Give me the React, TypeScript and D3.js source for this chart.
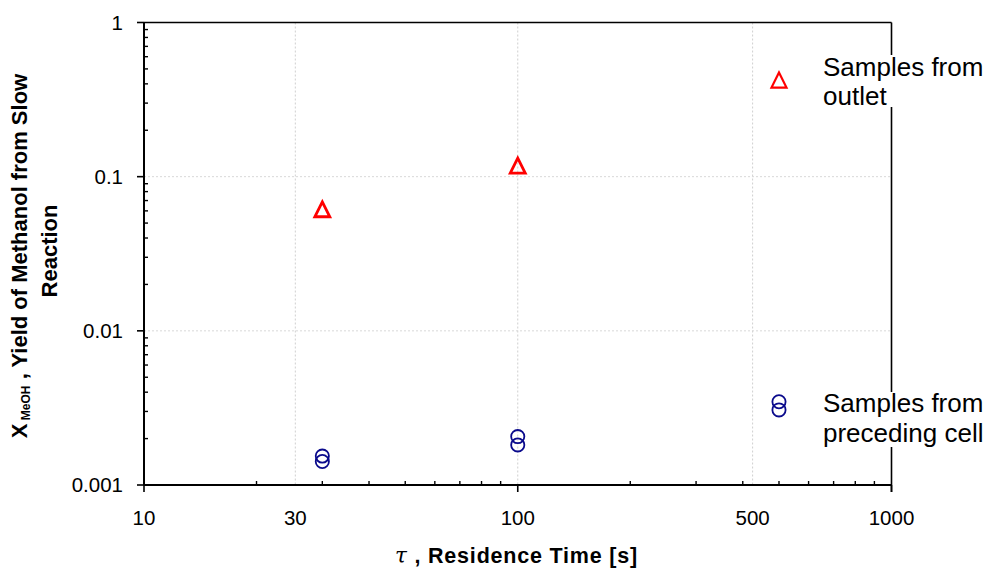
import React from "react";
import * as d3 from "d3";

// ---- data ----
const outletTau = [30, 100];
const outletYield = [0.061, 0.117];

const precedingTau = [30, 30, 100, 100, 500, 500];
const precedingYield = [0.00154, 0.00142, 0.00206, 0.00182, 0.00347, 0.00307];

// legend marker for the outlet series (drawn inside the plot in the original)
const legendTau = [500];
const legendYield = [0.42];

const xTickValues = [10, 100, 1000];
const xLabelValues = [10, 25.4, 100, 425, 1000];
const xLabelTexts = ["10", "30", "100", "500", "1000"];
const xGridValues = [25.4, 100, 425];

const yTickValues = [1, 0.1, 0.01, 0.001];
const yTickLabels = ["1", "0.1", "0.01", "0.001"];
const yGridValues = [0.1, 0.01];

const legendTexts1 = ["Samples from", "outlet"];
const legendTexts2 = ["Samples from", "preceding cell"];

const W = 992;
const H = 572;
const L = 144, R = 891.5, T = 22.5, B = 485;

const FONT = "'Liberation Sans', Arial, Helvetica, sans-serif";

export default function App() {
  const x = d3.scaleLog().domain([10, 1000]).range([L, R]);
  const y = d3.scaleLog().domain([0.001, 1]).range([B, T]);

  const xMinor: number[] = [];
  [10, 100].forEach((d) => {
    for (let k = 2; k <= 9; k++) xMinor.push(d * k);
  });
  const yMinor: number[] = [];
  [0.001, 0.01, 0.1].forEach((d) => {
    for (let k = 2; k <= 9; k++) yMinor.push(d * k);
  });

  const tri = "M0,-8 L7.5,7 L-7.5,7 Z";

  return (
    <svg
      width={W}
      height={H}
      style={{ position: "absolute", left: 0, top: 0, background: "#fff" }}
      fontFamily={FONT}
    >
      <rect x={0} y={0} width={W} height={H} fill="#fff" />
      {/* gridlines */}
      {xGridValues.map((v, i) => (
        <line
          key={"gx" + i}
          x1={x(v)}
          x2={x(v)}
          y1={T}
          y2={B}
          stroke="#cfcfcf"
          strokeWidth={1}
          strokeDasharray="2,2"
        />
      ))}
      {yGridValues.map((v, i) => (
        <line
          key={"gy" + i}
          x1={L}
          x2={R}
          y1={y(v)}
          y2={y(v)}
          stroke="#d8d8d8"
          strokeWidth={1}
          strokeDasharray="2,2"
        />
      ))}

      {/* frame top/right */}
      <line x1={L} x2={R} y1={T} y2={T} stroke="#000" strokeWidth={1.6} />
      <line x1={R} x2={R} y1={T} y2={B + 7} stroke="#000" strokeWidth={1.6} />

      {/* axes */}
      <line x1={L} x2={L} y1={T} y2={B} stroke="#000" strokeWidth={2} />
      <line x1={L} x2={R} y1={B} y2={B} stroke="#000" strokeWidth={2} />

      {/* y ticks */}
      {yTickValues.map((v, i) => (
        <line key={"yt" + i} x1={L - 7} x2={L} y1={y(v)} y2={y(v)} stroke="#000" strokeWidth={1.6} />
      ))}
      {yMinor.map((v, i) => (
        <line key={"ym" + i} x1={L} x2={L + 4} y1={y(v)} y2={y(v)} stroke="#000" strokeWidth={1.4} />
      ))}
      {/* x ticks */}
      {xTickValues.map((v, i) => (
        <line key={"xt" + i} x1={x(v)} x2={x(v)} y1={B} y2={B + 7} stroke="#000" strokeWidth={1.6} />
      ))}
      {xMinor.map((v, i) => (
        <line key={"xm" + i} x1={x(v)} x2={x(v)} y1={B - 4} y2={B} stroke="#000" strokeWidth={1.4} />
      ))}

      {/* tick labels */}
      {yTickValues.map((v, i) => (
        <text key={"yl" + i} x={123} y={y(v) + 7} textAnchor="end" fontSize={20.5} fill="#000">
          {yTickLabels[i]}
        </text>
      ))}
      {xLabelValues.map((v, i) => (
        <text key={"xl" + i} x={x(v)} y={525} textAnchor="middle" fontSize={20.5} fill="#000">
          {xLabelTexts[i]}
        </text>
      ))}

      {/* data: preceding cell circles */}
      {precedingTau.map((t, i) => (
        <circle
          key={"c" + i}
          cx={x(t)}
          cy={y(precedingYield[i])}
          r={6.6}
          fill="none"
          stroke="#0a0a8c"
          strokeWidth={1.8}
        />
      ))}
      {/* data: outlet triangles */}
      {outletTau.map((t, i) => (
        <path
          key={"t" + i}
          d={tri}
          transform={`translate(${x(t)},${y(outletYield[i])})`}
          fill="none"
          stroke="#ff0000"
          strokeWidth={2.8}
        />
      ))}
      {legendTau.map((t, i) => (
        <path
          key={"lt" + i}
          d={tri}
          transform={`translate(${x(t)},${y(legendYield[i])})`}
          fill="none"
          stroke="#ff0000"
          strokeWidth={2.2}
        />
      ))}

      {/* legend texts with white backing */}
      <rect x={819} y={55} width={173} height={52} fill="#fff" />
      {legendTexts1.map((s, i) => (
        <text key={"lg1" + i} x={823} y={76 + i * 29} fontSize={26} fill="#000">
          {s}
        </text>
      ))}
      <rect x={819} y={392} width={173} height={55} fill="#fff" />
      {legendTexts2.map((s, i) => (
        <text key={"lg2" + i} x={823} y={412 + i * 30} fontSize={26} fill="#000">
          {s}
        </text>
      ))}

      {/* x axis title */}
      <text x={395} y={563} fontSize={21.5} fontWeight="bold" fill="#000" letterSpacing={0.8}>
        <tspan fontStyle="italic" fontFamily="'DejaVu Serif', serif" fontWeight="normal">τ</tspan>
        <tspan> , Residence Time [s]</tspan>
      </text>

      {/* y axis title */}
      <g transform="translate(27,256) rotate(-90)">
        <text x={0} y={0} textAnchor="middle" fontSize={22} fontWeight="bold" fill="#000">
          <tspan>X</tspan>
          <tspan fontSize={12} dy={3}> MeOH</tspan>
          <tspan dy={-3}> , Yield of Methanol from Slow</tspan>
        </text>
      </g>
      <g transform="translate(57,251) rotate(-90)">
        <text x={0} y={0} textAnchor="middle" fontSize={22} fontWeight="bold" fill="#000">
          Reaction
        </text>
      </g>
    </svg>
  );
}
